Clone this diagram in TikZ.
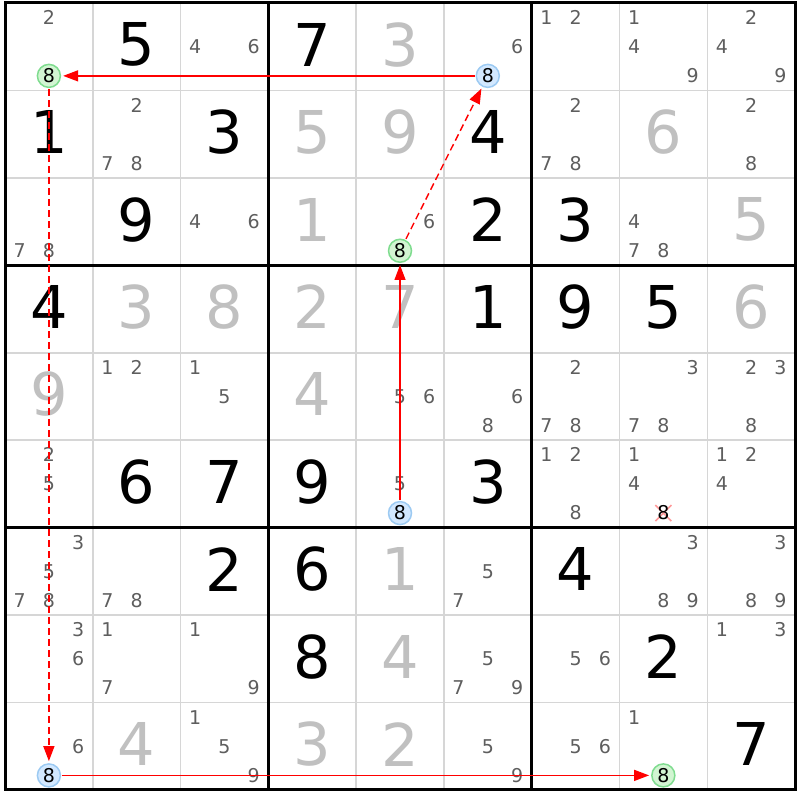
\documentclass[tikz,border=0pt]{standalone}
\usepackage{fontspec}
\setmainfont{DejaVu Sans}
\usetikzlibrary{arrows.meta}
\definecolor{gridgray}{HTML}{D6D6D6}
\definecolor{solv}{HTML}{C0C0C0}
\definecolor{cand}{HTML}{5E5E5E}
\definecolor{gfill}{HTML}{D2F5D2}
\definecolor{gline}{HTML}{7FDC8F}
\definecolor{bfill}{HTML}{D2E8FF}
\definecolor{bline}{HTML}{9CCAF2}
\definecolor{xred}{HTML}{FF9A9A}
\definecolor{linkred}{HTML}{FF0000}
\tikzset{
  bigdig/.style={inner sep=0pt,font=\fontsize{59}{59}\selectfont},
  given/.style={bigdig,text=black},
  solved/.style={bigdig,text=solv},
  candtxt/.style={inner sep=0pt,text=cand,font=\fontsize{19}{19}\selectfont},
  gcirc/.style={circle,draw=gline,fill=gfill,line width=1.5pt,minimum size=23pt,inner sep=0pt,text=black,font=\fontsize{19}{19}\selectfont},
  bcirc/.style={circle,draw=bline,fill=bfill,line width=1.5pt,minimum size=23pt,inner sep=0pt,text=black,font=\fontsize{19}{19}\selectfont},
  link/.style={draw=linkred,line width=1.4pt,-{Triangle[length=15pt,width=11pt,fill=linkred]},shorten >=2pt,shorten <=1pt},
  weaklink/.style={link,dash pattern=on 7pt off 4pt},
}
\def\cw{87.78}
\def\ch{87.44}
\def\xo{5}
\def\yo{3}
\begin{document}
\begin{tikzpicture}[x=1pt,y=-1pt]
\useasboundingbox (0,0) rectangle (800,800);
\fill[white] (0,0) rectangle (800,800);
% thin grid lines
\foreach \k in {1,2,4,5,7,8}{
  \draw[draw=gridgray,line width=1.5pt] ({\xo+\cw*\k},\yo) -- ({\xo+\cw*\k},{\yo+9*\ch});
  \draw[draw=gridgray,line width=1.5pt] (\xo,{\yo+\ch*\k}) -- ({\xo+9*\cw},{\yo+\ch*\k});
}
% thick lines
\foreach \k in {3,6}{
  \draw[black,line width=2.5pt] ({\xo+\cw*\k},\yo) -- ({\xo+\cw*\k},{\yo+9*\ch});
  \draw[black,line width=2.5pt] (\xo,{\yo+\ch*\k}) -- ({\xo+9*\cw},{\yo+\ch*\k});
}
\draw[black,line width=3pt] (\xo,\yo) rectangle ({\xo+9*\cw},{\yo+9*\ch});
% givens
\foreach \r/\c/\d in {1/2/5,1/4/7,2/1/1,2/3/3,2/6/4,3/2/9,3/6/2,3/7/3,4/1/4,4/6/1,4/7/9,4/8/5,6/2/6,6/3/7,6/4/9,6/6/3,7/3/2,7/4/6,7/7/4,8/4/8,8/8/2,9/9/7}{
  \node[given] (g\r\c) at ({\xo+\cw*(\c-0.5)},{\yo+\ch*(\r-0.5)-2}) {\d};
}
% solved
\foreach \r/\c/\d in {1/5/3,2/4/5,2/5/9,2/8/6,3/4/1,3/9/5,4/2/3,4/3/8,4/4/2,4/5/7,4/9/6,5/1/9,5/4/4,7/5/1,8/5/4,9/2/4,9/4/3,9/5/2}{
  \node[solved] (s\r\c) at ({\xo+\cw*(\c-0.5)},{\yo+\ch*(\r-0.5)-2}) {\d};
}
% candidates
\foreach \r/\c/\d in {1/1/2,1/3/4,1/3/6,1/6/6,1/7/1,1/7/2,1/8/1,1/8/4,1/8/9,1/9/2,1/9/4,1/9/9,
  2/2/2,2/2/7,2/2/8,2/7/2,2/7/7,2/7/8,2/9/2,2/9/8,
  3/1/7,3/1/8,3/3/4,3/3/6,3/5/6,3/8/4,3/8/7,3/8/8,
  5/2/1,5/2/2,5/3/1,5/3/5,5/5/5,5/5/6,5/6/6,5/6/8,5/7/2,5/7/7,5/7/8,5/8/3,5/8/7,5/8/8,5/9/2,5/9/3,5/9/8,
  6/1/2,6/1/5,6/5/5,6/7/1,6/7/2,6/7/8,6/8/1,6/8/4,6/9/1,6/9/2,6/9/4,
  7/1/3,7/1/5,7/1/7,7/1/8,7/2/7,7/2/8,7/6/5,7/6/7,7/8/3,7/8/8,7/8/9,7/9/3,7/9/8,7/9/9,
  8/1/3,8/1/6,8/2/1,8/2/7,8/3/1,8/3/9,8/6/5,8/6/7,8/6/9,8/7/5,8/7/6,8/9/1,8/9/3,
  9/1/6,9/3/1,9/3/5,9/3/9,9/6/5,9/6/9,9/7/5,9/7/6,9/8/1}{
  \pgfmathtruncatemacro\jj{mod(\d-1,3)}
  \pgfmathtruncatemacro\ii{div(\d-1,3)}
  \node[candtxt] (c\r\c\d) at ({\xo+\cw*(\c-1)+\cw*(2*\jj+1)/6},{\yo+\ch*(\r-1)+\ch*(2*\ii+1)/6}) {\d};
}
% crossed candidate r6c8 8
\coordinate (x68) at ({\xo+\cw*7+\cw*3/6},{\yo+\ch*5+\ch*5/6});
\draw[xred,line width=1.6pt] ([shift={(-8,-8)}]x68) -- ([shift={(8,8)}]x68)
  ([shift={(-8,8)}]x68) -- ([shift={(8,-8)}]x68);
\node[inner sep=0pt,text=black,font=\fontsize{19}{19}\selectfont] (x68n) at (x68) {8};
% circled candidates (digit 8, bottom middle)
\foreach \r/\c/\s in {1/1/gcirc,3/5/gcirc,9/8/gcirc,1/6/bcirc,6/5/bcirc,9/1/bcirc}{
  \node[\s] (k\r\c) at ({\xo+\cw*(\c-0.5)},{\yo+\ch*(\r-1)+\ch*5/6}) {8};
}
% links
\draw[link] (k16) -- (k11);
\draw[weaklink] (k35) -- (k16);
\draw[link] (k65) -- (k35);
\draw[weaklink] (k11) -- (k91);
\draw[link] (k91) -- (k98);
\end{tikzpicture}
\end{document}
